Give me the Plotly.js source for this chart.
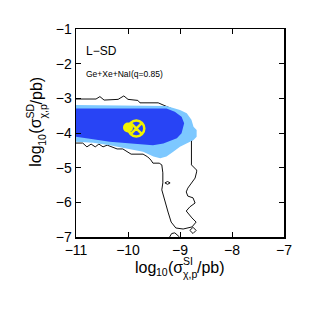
<!DOCTYPE html>
<html><head><meta charset="utf-8">
<script src="https://cdn.plot.ly/plotly-3.0.1.min.js"></script>
<style>html,body{margin:0;padding:0;background:#fff}#c{width:313px;height:313px}</style>
</head><body><div id="c"></div>
<script>
// Light blue (outer credible region) boundary
const lightX = [-11,-9.26,-9.0,-8.87,-8.78,-8.74,-8.68,-8.68,-8.74,-8.87,-9.0,-9.13,-9.26,-9.38,-9.51,-9.71,-10.03,-10.35,-10.67,-11];
const lightY = [-3.19,-3.22,-3.34,-3.43,-3.62,-3.82,-3.91,-4.11,-4.20,-4.30,-4.40,-4.54,-4.68,-4.73,-4.68,-4.54,-4.44,-4.35,-4.28,-4.25];
// Dark blue (inner credible region) boundary
const darkX = [-11,-9.26,-9.10,-8.97,-8.92,-8.97,-9.06,-9.32,-9.52,-10.02,-10.35,-10.67,-11];
const darkY = [-3.29,-3.29,-3.39,-3.53,-3.72,-4.01,-4.15,-4.30,-4.35,-4.30,-4.25,-4.18,-4.11];
// Black contour line
const lineX = [-11,-10.615,-10.54,-10.46,-10.19,-10.08,-10.0,-9.81,-9.77,-9.42,-9.25,-9.10,-8.94,-8.85,-8.79,-8.77,-8.78,-8.78,-8.68,-8.68,-8.71,-8.78,-8.85,-8.88,-8.85,-8.75,-8.71,-8.81,-8.88,-8.77,-8.69,-8.77,-8.94,-9.08,-9.17,-9.23,-9.29,-9.33,-9.35,-9.33,-9.33,-9.35,-9.40,-9.52,-9.56,-9.62,-9.71,-9.94,-10.0,-10.10,-10.21,-10.40,-10.48,-10.56,-10.63,-10.71,-10.79,-10.87,-11];
const lineY = [-3.02,-3.02,-2.95,-3.05,-3.03,-2.93,-3.03,-3.06,-3.13,-3.13,-3.24,-3.34,-3.48,-3.68,-3.91,-4.14,-4.26,-4.92,-5.07,-5.12,-5.30,-5.44,-5.59,-5.70,-5.82,-5.87,-6.02,-6.13,-6.25,-6.45,-6.57,-6.71,-6.77,-6.74,-6.57,-6.28,-5.99,-5.79,-5.64,-5.44,-5.15,-4.92,-4.87,-4.87,-4.78,-4.69,-4.61,-4.61,-4.55,-4.46,-4.46,-4.35,-4.40,-4.32,-4.40,-4.32,-4.40,-4.29,-4.29];
// Small islands
const islandX = [-9.29,-9.24,-9.19,-9.24,-9.29];
const islandY = [-5.44,-5.40,-5.44,-5.48,-5.44];
const diamondX = [-8.81,-8.75,-8.69,-8.75,-8.81];
const diamondY = [-6.81,-6.72,-6.81,-6.90,-6.81];
const bitX = [-9.20,-9.16,-9.10,-9.06,-9.03,-9.01];
const bitY = [-7.0,-6.90,-6.88,-6.93,-6.97,-7.0];
// Best fit / benchmark points
const benchX = [-9.84];
const benchY = [-3.87];
const bestX = [-10.0];
const bestY = [-3.84];

const xTicks = [-11,-10,-9,-8,-7];
const yTicks = [-7,-6,-5,-4,-3,-2,-1];

// Axis title pieces (main, sub, main, sup, sub, main)
const xTitleParts = ['log', '10', '(σ', 'SI', 'χ,p', '/pb)'];
const yTitleParts = ['log', '10', '(σ', 'SD', 'χ,p', '/pb)'];

const FAM = 'Liberation Sans, Arial';
const M = 16, S = 10.5;
const cv = document.createElement('canvas').getContext('2d');
function tw(t, sz){ cv.font = sz + 'px "Liberation Sans"'; return cv.measureText(t).width; }

// plot area in pixels
const L = 76, T = 29, W = 208, H = 208;
const px2x = p => (p - L) / W;
const px2y = p => (T + H - p) / H;

function titleAnns(parts, horizontal, center, across) {
  const [a, b, c, d, e, f] = parts;
  const wa = tw(a, M), wb = tw(b, S), wc = tw(c, M), wd = Math.max(tw(d, S), tw(e, S)), wf = tw(f, M);
  const total = wa + wb + wc + wd + wf;
  let pos = horizontal ? center - total / 2 : center + total / 2;
  const items = [];
  const dir = horizontal ? 1 : -1;
  function add(text, size, off) {
    const ann = {text, showarrow:false, xref:'paper', yref:'paper', borderpad:0, borderwidth:0,
      font:{family:FAM, size, color:'#000'}};
    if (horizontal) {
      ann.x = px2x(pos); ann.xanchor = 'left';
      ann.y = px2y(across + off); ann.yanchor = 'middle';
    } else {
      ann.textangle = -90;
      ann.y = px2y(pos); ann.yanchor = 'bottom';
      ann.x = px2x(across + off); ann.xanchor = 'center';
    }
    items.push(ann);
  }
  add(a, M, 0); pos += dir * wa;
  add(b, S, horizontal ? 5 : 6); pos += dir * wb;
  add(c, M, 0); pos += dir * wc;
  add(d, S, horizontal ? -6 : -6);
  add(e, S, horizontal ? 6.5 : 6.5); pos += dir * wd;
  add(f, M, 0);
  return items;
}

const traces = [
  {x: lineX, y: lineY, mode:'lines', line:{color:'#111', width:1}},
  {x: islandX, y: islandY, mode:'lines', line:{color:'#111', width:1}},
  {x: diamondX, y: diamondY, mode:'lines', line:{color:'#111', width:1}},
  {x: bitX, y: bitY, mode:'lines', line:{color:'#111', width:1}},
  {x: lightX, y: lightY, fill:'toself', fillcolor:'rgb(125,200,255)', line:{width:0}, mode:'lines', hoverinfo:'skip'},
  {x: darkX, y: darkY, fill:'toself', fillcolor:'rgb(40,68,245)', line:{width:0}, mode:'lines', hoverinfo:'skip'},
  {x: bestX, y: bestY, mode:'markers', marker:{symbol:'circle', size:10, color:'#f2f200'}},
  {x: benchX, y: benchY, mode:'markers', marker:{symbol:'circle-x-open', size:16, color:'#f2f200', line:{width:2.5, color:'#f2f200'}}}
];

const axisCommon = {showgrid:false, zeroline:false, ticks:'inside', ticklen:5, tickwidth:1, tickcolor:'#000', mirror:'ticks', showline:true, linecolor:'#000', linewidth:1.5, tickfont:{family:FAM, size:14, color:'#000'}};

const layout = {
  width:313, height:313, showlegend:false,
  margin:{l:76, r:29, t:29, b:76},
  paper_bgcolor:'#fff', plot_bgcolor:'#fff',
  xaxis: Object.assign({}, axisCommon, {range:[-11,-7], tickvals:xTicks, ticktext:xTicks.map(v=>'\u2212'+Math.abs(v))}),
  yaxis: Object.assign({}, axisCommon, {range:[-7,-1], tickvals:yTicks, ticktext:yTicks.map(v=>'\u2212'+Math.abs(v))}),
  annotations:[
    {xref:'paper', yref:'paper', x:0.04, y:0.895, xanchor:'left', yanchor:'middle', text:'L\u2212SD', showarrow:false, font:{family:FAM, size:12, color:'#000'}},
    {xref:'paper', yref:'paper', x:0.04, y:0.785, xanchor:'left', yanchor:'middle', text:'Ge+Xe+NaI(q=0.85)', showarrow:false, font:{family:FAM, size:8.5, color:'#000'}}
  ].concat(titleAnns(xTitleParts, true, 180, 267), titleAnns(yTitleParts, false, 122, 36))
};
Plotly.newPlot('c', traces, layout, {staticPlot:true, displayModeBar:false});
</script></body></html>
